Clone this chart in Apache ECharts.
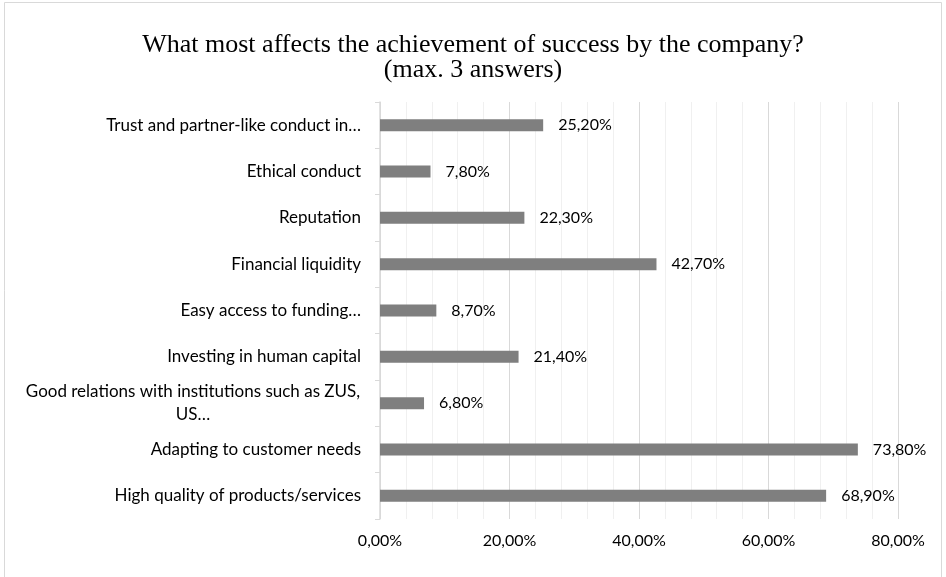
<!DOCTYPE html>
<html>
<head>
<meta charset="utf-8">
<script src="https://cdn.jsdelivr.net/npm/echarts@6/dist/echarts.min.js"></script>
<style>
html,body{margin:0;padding:0;background:#fff;}
#chart{width:946px;height:577px;}
</style>
</head>
<body>
<div id="chart"></div>
<script>
var titleText = 'What most affects the achievement of success by the company?\n(max. 3 answers)';
var categories = [
  'Trust and partner-like conduct in…',
  'Ethical conduct',
  'Reputation',
  'Financial liquidity',
  'Easy access to funding…',
  'Investing in human capital',
  'Good relations with institutions such as ZUS,\nUS…',
  'Adapting to customer needs',
  'High quality of products/services'
];
var values = [25.2, 7.8, 22.3, 42.7, 8.7, 21.4, 6.8, 73.8, 68.9];
var xTicks = [0, 20, 40, 60, 80];

function pct(v){ return v.toFixed(2).replace('.', ',') + '%'; }

var FONT = 'Lato';
var chart = echarts.init(document.getElementById('chart'));
chart.setOption({
  animation: false,
  backgroundColor: '#fff',
  graphic: [{
    type: 'rect',
    shape: {x: 4.5, y: 2.5, width: 937, height: 580},
    style: {fill: 'none', stroke: '#d9d9d9', lineWidth: 1}
  }],
  title: {
    text: titleText,
    left: 'center',
    top: 28,
    textStyle: {fontFamily: 'Liberation Serif', fontWeight: 'normal', fontSize: 26, color: '#000', lineHeight: 25}
  },
  grid: {left: 380, right: 48, top: 102, bottom: 58, containLabel: false},
  xAxis: {
    type: 'value',
    min: xTicks[0],
    max: xTicks[xTicks.length - 1],
    interval: 20,
    axisLine: {show: false},
    axisTick: {show: false},
    axisLabel: {
      formatter: function(v){ return pct(v); },
      fontFamily: FONT, fontSize: 16, color: '#000', margin: 14
    },
    splitLine: {show: true, lineStyle: {color: '#d9d9d9', width: 1}},
    minorTick: {show: false, splitNumber: 5},
    minorSplitLine: {show: true, lineStyle: {color: '#f0f0f0', width: 1}}
  },
  yAxis: {
    type: 'category',
    inverse: true,
    data: categories,
    axisLine: {show: true, lineStyle: {color: '#d9d9d9', width: 1.5}},
    axisTick: {show: true, length: 5, lineStyle: {color: '#d9d9d9'}},
    axisLabel: {
      margin: 19,
      fontFamily: FONT, fontSize: 17, color: '#000',
      formatter: function(v){
        if (v.indexOf('\n') >= 0) {
          return v.split('\n').map(function(l){ return '{w|' + l + '}'; }).join('\n');
        }
        return v;
      },
      rich: {w: {width: 336, align: 'center', fontFamily: FONT, fontSize: 17, color: '#000', lineHeight: 23}}
    }
  },
  series: [{
    type: 'bar',
    data: values,
    barWidth: 12,
    itemStyle: {color: '#7f7f7f'},
    label: {
      show: true,
      position: 'right',
      distance: 15,
      formatter: function(p){ return pct(p.value); },
      fontFamily: FONT, fontSize: 16, color: '#000'
    }
  }]
});
</script>
</body>
</html>
